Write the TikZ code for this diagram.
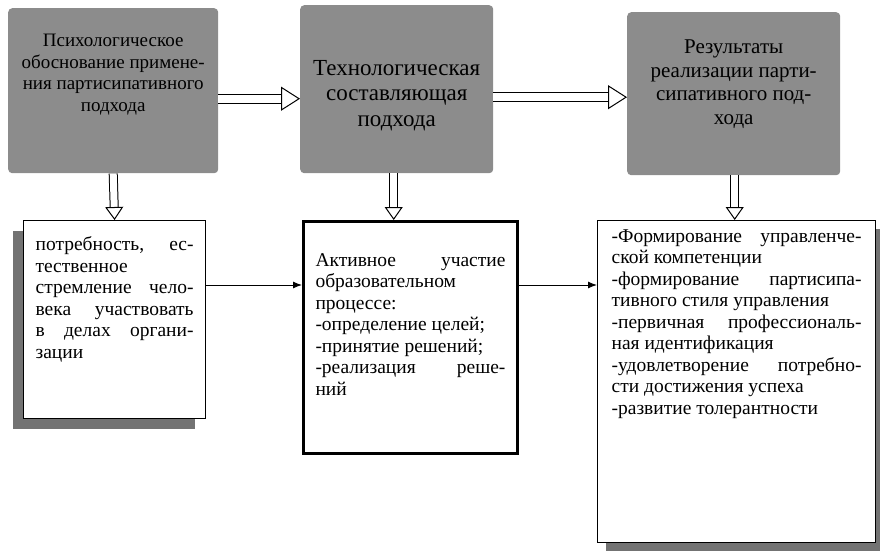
\documentclass[tikz,border=0pt]{standalone}
\usepackage{fontspec}
\setmainfont{Liberation Serif}
\usetikzlibrary{arrows.meta,shadows,positioning}

\tikzset{
  topbox/.style={fill=black!45, rounded corners=4pt, inner sep=0pt, anchor=north west},
  lowbox/.style={draw, line width=1.2pt, fill=white, inner ysep=0pt, anchor=north west,
    font=\fontsize{19.5}{21.5}\selectfont},
  hollow/.style={double, double distance=8pt, line width=1pt,
    -{Triangle[open, length=19pt, width=24pt]}},
  hollowdown/.style={double, double distance=7pt, line width=1pt,
    -{Triangle[open, length=13pt, width=18pt]}},
  flow/.style={line width=1pt, -{Latex[length=9pt, width=7pt]}},
}

\begin{document}
\begin{tikzpicture}[x=1pt, y=1pt]
        \useasboundingbox (0,0) rectangle (880,-551);
        % upper boxes
        \node[topbox, font=\fontsize{19}{21.5}\selectfont] (top1) at (8,-8)
          {\parbox[t][165pt][t]{210pt}{\centering\vspace*{26pt}Психологическое\\ обоснование примене-\\ ния партисипативного\\ подхода}};
        \node[topbox, font=\fontsize{23}{25.5}\selectfont] (top2) at (300,-5)
          {\parbox[t][168pt][t]{193pt}{\centering\vspace*{55pt}Технологическая\\ составляющая\\ подхода}};
        \node[topbox, font=\fontsize{21}{23.5}\selectfont] (top3) at (627,-12)
          {\parbox[t][163pt][t]{213pt}{\centering\vspace*{28pt}Результаты\\ реализации парти-\\ сипативного под-\\ хода}};
        % lower boxes
        \node[lowbox, inner xsep=12pt,
          drop shadow={shadow xshift=-11pt, shadow yshift=-10pt, fill=black!55, opacity=1}] (low1) at (23,-220)
          {\parbox[t][198pt][t]{158pt}{\vspace*{16pt}потребность, ес-\linebreak тественное\\
            стремление чело-\linebreak века участвовать\linebreak в делах органи-\linebreak зации}};
        \node[lowbox, line width=3pt, inner xsep=12pt] (low2) at (302,-220)
          {\parbox[t][232pt][t]{190pt}{\vspace*{32pt}Активное участие\linebreak образовательном\\
            процессе:\\ -определение целей;\\ -принятие решений;\\ -реализация реше-\linebreak ний}};
        \node[lowbox, inner xsep=14pt,
          drop shadow={shadow xshift=8pt, shadow yshift=-8pt, fill=black!55, opacity=1}] (low3) at (597,-220)
          {\parbox[t][322pt][t]{250pt}{\vspace*{9pt}-Формирование управленче-\linebreak ской компетенции\\
            -формирование партисипа-\linebreak тивного стиля управления\\
            -первичная профессиональ-\linebreak ная идентификация\\
            -удовлетворение потребно-\linebreak сти достижения успеха\\
            -развитие толерантности}};
        % hollow arrows
        \draw[hollow] ([yshift=-8pt]top1.east) -- ([yshift=-8pt]top1.east -| top2.west);
        \draw[hollow] ([yshift=-8pt]top2.east) -- ([yshift=-8pt]top2.east -| top3.west);
        \draw[hollowdown] (top1.south) -- (low1.north);
        \draw[hollowdown] ([xshift=-3pt]top2.south) -- ([xshift=-3pt]top2.south |- low2.north);
        \draw[hollowdown] ([xshift=1pt]top3.south) -- ([xshift=1pt]top3.south |- low3.north);
        % lines
        \draw[flow] ([yshift=-65pt]low1.north east) -- ([yshift=-65pt]low1.north east -| low2.west);
        \draw[flow] ([yshift=-65pt]low2.north east) -- ([yshift=-65pt]low2.north east -| low3.west);
      \end{tikzpicture}
\end{document}
